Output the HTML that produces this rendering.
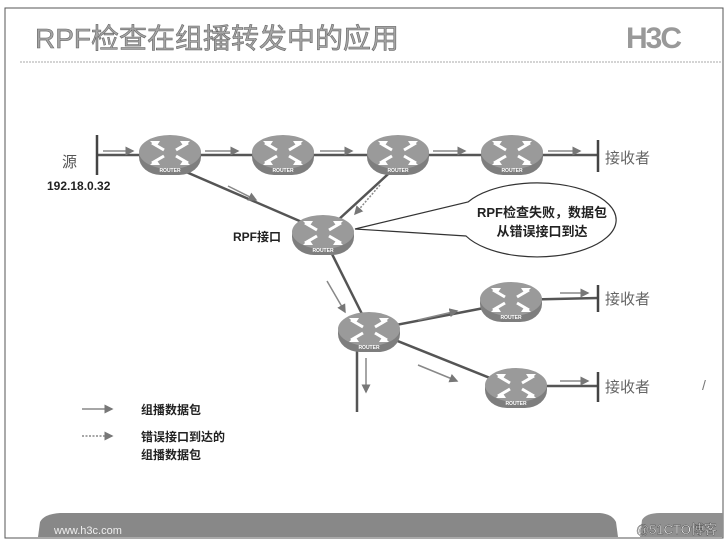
<!DOCTYPE html>
<html><head><meta charset="utf-8"><style>
html,body{margin:0;padding:0;background:#fff;}
svg{display:block;font-family:"Liberation Sans","Noto Sans CJK SC",sans-serif;}
</style></head><body>
<svg width="728" height="549" viewBox="0 0 728 549" xmlns="http://www.w3.org/2000/svg">
<defs>
<g id="rt">
<rect x="-31" y="-18" width="62" height="38" rx="22" ry="18" fill="#7e7e7e"/>
<ellipse cx="0" cy="-3" rx="31" ry="17" fill="#9a9a9a"/>
<g stroke="#fff" stroke-width="3" fill="none">
<path d="M-18,-12 L-6,-5 M18,-12 L6,-5 M-18,8 L-6,1 M18,8 L6,1"/>
</g>
<g fill="#fff">
<polygon points="-20,-14 -10,-14 -14,-8"/>
<polygon points="20,-14 10,-14 14,-8"/>
<polygon points="-20,10 -10,10 -14,4"/>
<polygon points="20,10 10,10 14,4"/>
</g>
<text x="0" y="17" font-size="5" fill="#fff" text-anchor="middle" font-weight="bold">ROUTER</text>
</g>
<marker id="ah" markerWidth="6" markerHeight="6" refX="5" refY="3" orient="auto"><path d="M0,0 L6,3 L0,6z" fill="#777"/></marker>
</defs>
<rect x="5" y="8" width="718" height="530" fill="#fff" stroke="#555" stroke-width="1"/>
<text x="35" y="48" font-size="28" fill="#a5a5a5" stroke="#666" stroke-width="0.6">RPF检查在组播转发中的应用</text>
<text x="626" y="48" font-size="30" fill="#999" font-weight="bold" letter-spacing="-2">H3C</text>
<line x1="20" y1="62" x2="723" y2="62" stroke="#aaa" stroke-width="1" stroke-dasharray="2,1"/>
<g stroke="#555" stroke-width="2.5" fill="none">
<line x1="97" y1="155" x2="598" y2="155"/>
<line x1="170" y1="165" x2="325" y2="232"/>
<line x1="398" y1="165" x2="325" y2="232"/>
<line x1="325" y1="240" x2="370" y2="330"/>
<line x1="370" y1="330" x2="510" y2="303"/>
<line x1="370" y1="330" x2="515" y2="388"/>
<line x1="357" y1="330" x2="357" y2="412"/>
<line x1="510" y1="300" x2="598" y2="298"/>
<line x1="515" y1="386" x2="598" y2="386"/>
</g>
<g stroke="#444" stroke-width="2.5">
<line x1="97" y1="135" x2="97" y2="175"/>
<line x1="598" y1="140" x2="598" y2="172"/>
<line x1="598" y1="285" x2="598" y2="312"/>
<line x1="598" y1="372" x2="598" y2="402"/>
</g>
<g stroke="#888" stroke-width="1.5" marker-end="url(#ah)">
<line x1="103" y1="151" x2="133" y2="151"/>
<line x1="205" y1="151" x2="238" y2="151"/>
<line x1="320" y1="151" x2="352" y2="151"/>
<line x1="433" y1="151" x2="465" y2="151"/>
<line x1="548" y1="151" x2="580" y2="151"/>
<line x1="228" y1="186" x2="256" y2="200"/>
<line x1="327" y1="281" x2="345" y2="312"/>
<line x1="418" y1="320" x2="457" y2="311"/>
<line x1="418" y1="365" x2="457" y2="381"/>
<line x1="366" y1="358" x2="366" y2="392"/>
<line x1="560" y1="293" x2="588" y2="293"/>
<line x1="560" y1="381" x2="588" y2="381"/>
<line x1="82" y1="409" x2="112" y2="409"/>
</g>
<g stroke="#888" stroke-width="1.5" stroke-dasharray="2,1.5" marker-end="url(#ah)">
<line x1="380" y1="185" x2="355" y2="214"/>
<line x1="82" y1="436" x2="112" y2="436"/>
</g>
<use href="#rt" x="170" y="155"/>
<use href="#rt" x="283" y="155"/>
<use href="#rt" x="398" y="155"/>
<use href="#rt" x="512" y="155"/>
<use href="#rt" x="323" y="235"/>
<use href="#rt" x="369" y="332"/>
<use href="#rt" x="511" y="302"/>
<use href="#rt" x="516" y="388"/>
<path d="M468,202 A79,37 0 1 1 466,236 L355,229 Z" fill="#fff" stroke="#333" stroke-width="1.2"/>
<text x="542" y="217" font-size="13" font-weight="bold" text-anchor="middle" fill="#222">RPF检查失败，数据包</text>
<text x="542" y="236" font-size="13" font-weight="bold" text-anchor="middle" fill="#222">从错误接口到达</text>
<text x="62" y="167" font-size="15" fill="#555">源</text>
<text x="47" y="190" font-size="12" font-weight="bold" fill="#222">192.18.0.32</text>
<text x="605" y="163" font-size="15" fill="#666">接收者</text>
<text x="605" y="304" font-size="15" fill="#666">接收者</text>
<text x="605" y="392" font-size="15" fill="#666">接收者</text>
<text x="233" y="241" font-size="12" font-weight="bold" fill="#222">RPF接口</text>
<text x="141" y="414" font-size="12" font-weight="bold" fill="#222">组播数据包</text>
<text x="141" y="441" font-size="12" font-weight="bold" fill="#222">错误接口到达的</text>
<text x="141" y="459" font-size="12" font-weight="bold" fill="#222">组播数据包</text>
<text x="702" y="390" font-size="14" fill="#777">/</text>
<path d="M38,537 L40,522 Q44,514 60,513 L600,513 Q612,514 616,522 L618,537 Z" fill="#888"/>
<path d="M640,537 L642,520 Q646,513 660,513 L723,513 L723,537 Z" fill="#909090"/>
<text x="54" y="534" font-size="11" fill="#eee">www.h3c.com</text>
<text x="636" y="534" font-size="13" fill="#fff" stroke="#444" stroke-width="0.4">@51CTO博客</text>
</svg>
</body></html>
